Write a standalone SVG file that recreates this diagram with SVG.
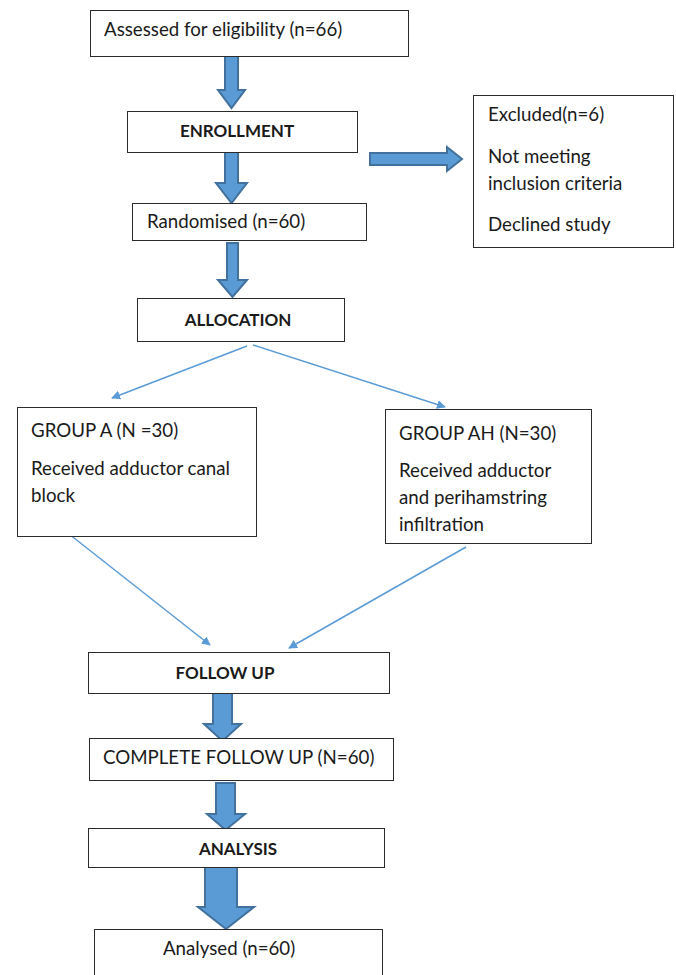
<svg xmlns="http://www.w3.org/2000/svg" width="676" height="975" viewBox="0 0 676 975">
  <style>
    .box { fill: #ffffff; stroke: #2b2b2b; stroke-width: 1; }
    .t { font-family: Lato, "Open Sans", sans-serif; font-size: 18.7px; fill: #1a1a1a; }
    .b { font-size: 17px; font-weight: bold; text-anchor: middle; }
    .blk { fill: #5b9bd5; stroke: #41719c; stroke-width: 2; stroke-linejoin: miter; }
    .thin { stroke: #5b9bd5; stroke-width: 1.5; fill: none; marker-end: url(#ah); }
  </style>
  <defs>
    <marker id="ah" viewBox="0 0 10 10" refX="9" refY="5" markerWidth="9" markerHeight="9" markerUnits="userSpaceOnUse" orient="auto">
      <path d="M0,0 L10,5 L0,10 z" fill="#5b9bd5"/>
    </marker>
  </defs>

  <rect width="676" height="975" fill="#ffffff"/>

  <g id="connectors">
    <!-- block arrows -->
    <path class="blk" d="M225,56 H238 V90 H245 L231.5,108 L218,90 H225 Z"/>
    <path class="blk" d="M225,152 H238 V183 H247 L231.5,203 L216,183 H225 Z"/>
    <path class="blk" d="M227,243 H238 V280 H247 L232.5,297 L218,280 H227 Z"/>
    <path class="blk" d="M370,153 H447 V147 L462,159 L447,171 V165 H370 Z"/>
    <path class="blk" d="M213,693 H232 V724 H241 L222.5,741 L204,724 H213 Z"/>
    <path class="blk" d="M216,783 H235 V814 H245 L225.5,830 L207,814 H216 Z"/>
    <path class="blk" d="M205,867 H237 V907 H254 L226,929 L198,907 H205 Z"/>
    <!-- thin arrows -->
    <line class="thin" x1="247" y1="346" x2="112" y2="398"/>
    <line class="thin" x1="253" y1="345" x2="445" y2="407"/>
    <line class="thin" x1="69" y1="534" x2="210" y2="645"/>
    <line class="thin" x1="466" y1="547" x2="289" y2="648"/>
  </g>

  <g id="assessed">
    <rect class="box" x="90.5" y="10.5" width="318" height="46"/>
    <text class="t" x="104" y="36">Assessed for eligibility (n=66)</text>
  </g>
  <g id="enrollment">
    <rect class="box" x="127.5" y="111.5" width="230" height="41"/>
    <text class="t b" x="237" y="137">ENROLLMENT</text>
  </g>
  <g id="excluded">
    <rect class="box" x="473.5" y="95.5" width="200" height="152"/>
    <text class="t" x="488" y="121">Excluded(n=6)</text>
    <text class="t" x="488" y="163">Not meeting</text>
    <text class="t" x="488" y="190">inclusion criteria</text>
    <text class="t" x="488" y="231">Declined study</text>
  </g>
  <g id="randomised">
    <rect class="box" x="132.5" y="203.5" width="234" height="37"/>
    <text class="t" x="147" y="228">Randomised (n=60)</text>
  </g>
  <g id="allocation">
    <rect class="box" x="137.5" y="298.5" width="207" height="43"/>
    <text class="t b" x="238" y="326">ALLOCATION</text>
  </g>
  <g id="group-a">
    <rect class="box" x="17.5" y="407.5" width="239" height="129"/>
    <text class="t" x="31" y="437">GROUP A (N =30)</text>
    <text class="t" x="31" y="475">Received adductor canal</text>
    <text class="t" x="31" y="502">block</text>
  </g>
  <g id="group-ah">
    <rect class="box" x="385.5" y="409.5" width="206" height="134"/>
    <text class="t" x="399" y="440">GROUP AH (N=30)</text>
    <text class="t" x="399" y="477">Received adductor</text>
    <text class="t" x="399" y="504">and perihamstring</text>
    <text class="t" x="399" y="531">infiltration</text>
  </g>
  <g id="follow-up">
    <rect class="box" x="88.5" y="652.5" width="301" height="41"/>
    <text class="t b" x="225" y="679">FOLLOW UP</text>
  </g>
  <g id="complete">
    <rect class="box" x="89.5" y="738.5" width="304" height="42"/>
    <text class="t" x="103" y="764">COMPLETE FOLLOW UP (N=60)</text>
  </g>
  <g id="analysis">
    <rect class="box" x="88.5" y="828.5" width="296" height="39"/>
    <text class="t b" x="238" y="855">ANALYSIS</text>
  </g>
  <g id="analysed">
    <rect class="box" x="94.5" y="929.5" width="288" height="60"/>
    <text class="t" x="163" y="955">Analysed (n=60)</text>
  </g>
</svg>
